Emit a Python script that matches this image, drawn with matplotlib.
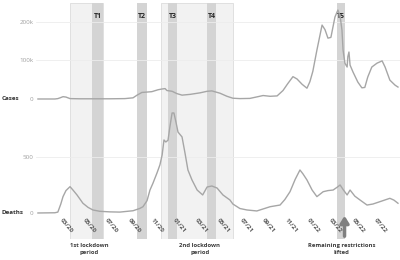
import numpy as np
import matplotlib
matplotlib.use("Agg")
import matplotlib.pyplot as plt

plt.rcParams["font.family"] = ["Open Sans", "DejaVu Sans"]

# day offsets from 2020-01-01
case_days = [-8, 38, 46, 52, 60, 68, 79, 106, 187, 228, 250, 261, 274, 288, 301, 318,
             329, 337, 342, 356, 369, 383, 405, 432, 451, 464, 486, 505, 521, 540,
             567, 589, 603, 622, 641, 657, 670, 684, 695, 709, 722, 730, 738, 749,
             763, 771, 779, 787, 798, 806, 812, 817, 820, 825, 831, 833, 836, 839,
             847, 860, 871, 879, 887, 898, 912, 926, 934, 947, 961, 969]
cases = [0, 0, 1000, 3000, 6000, 5000, 1000, 500, 500, 1000, 3000, 10000, 17000,
         18000, 19000, 24000, 26000, 27000, 22000, 20000, 14000, 10000, 12000, 16000,
         20000, 21000, 15000, 7000, 2000, 1000, 1500, 6000, 9000, 7000, 8000, 22000,
         40000, 58000, 52000, 38000, 28000, 45000, 72000, 127000, 192000, 180000,
         158000, 160000, 213000, 231000, 215000, 179000, 127000, 93000, 83000, 110000,
         122000, 88000, 70000, 44000, 29000, 30000, 57000, 83000, 93000, 99000, 83000,
         49000, 36000, 31000]

death_days = [-8, 38, 46, 54, 60, 68, 79, 87, 98, 114, 128, 141, 160, 187, 214, 250,
              268, 277, 288, 296, 304, 315, 323, 329, 334, 339, 345, 350, 356, 361,
              367, 372, 383, 391, 399, 410, 424, 439, 451, 464, 478, 494, 513, 521,
              540, 559, 586, 622, 649, 662, 676, 690, 703, 711, 722, 736, 749, 766,
              779, 793, 804, 812, 820, 831, 839, 852, 866, 885, 901, 920, 937, 947,
              958, 969]
deaths = [0, 2, 8, 80, 146, 200, 235, 205, 161, 87, 50, 27, 15, 10, 8, 20, 40, 56,
          110, 205, 265, 357, 430, 518, 652, 634, 650, 768, 893, 893, 804, 723, 679,
          536, 384, 295, 205, 161, 232, 241, 223, 161, 116, 80, 40, 27, 18, 56, 71,
          120, 190, 300, 384, 350, 295, 205, 146, 190, 200, 205, 230, 250, 210, 161,
          205, 150, 116, 71, 80, 101, 120, 131, 115, 87]

lockdowns = [(79, 169, "1st lockdown\nperiod"), (326, 521, "2nd lockdown\nperiod")]
t_bands = [(139, 169, "T1"), (261, 288, "T2"), (345, 369, "T3"),
           (451, 475, "T4"), (803, 825, "T5")]
lifted_day = 824
tick_months = ["2020-03", "2020-05", "2020-07", "2020-09", "2020-11", "2021-01",
               "2021-03", "2021-05", "2021-07", "2021-09", "2021-11", "2022-01",
               "2022-03", "2022-05", "2022-07"]

base = np.datetime64("2020-01-01T00")


def d(x):
    hours = np.round(np.asarray(x, dtype=float) * 24).astype(int)
    return base + hours.astype("timedelta64[h]")


W, H = 400, 260
fig = plt.figure(figsize=(4, 2.6), dpi=100)


def rect(l, t, r, b):
    return [l / W, 1 - b / H, (r - l) / W, (b - t) / H]


xlim = (d(-13.3), d(974.5))
line_c = "#a6a6a6"

# shaded periods behind everything
bg = fig.add_axes(rect(36, 3, 400, 239))
bg.set_xlim(*xlim)
bg.set_ylim(0, 1)
bg.axis("off")
for s, e, _ in lockdowns:
    bg.axvspan(d(s), d(e), facecolor="#f2f2f2", edgecolor="#dcdcdc", lw=0.6)
for s, e, lab in t_bands:
    bg.axvspan(d(s), d(e), facecolor="#d4d4d4", edgecolor="none")
    bg.text(d((s + e) / 2), (239 - 17) / 236, lab, ha="center", va="center",
            fontsize=5, fontweight="bold", color="#262626")
bg.annotate("", xy=(d(lifted_day), (239 - 213) / 236), xytext=(d(lifted_day), 0),
            arrowprops=dict(arrowstyle="-|>,head_width=0.25,head_length=0.4",
                            lw=2.5, color="#7f7f7f"))
for s, e, lab in lockdowns:
    bg.text(d((s + e) / 2 + 8), -0.015, lab, ha="center", va="top", fontsize=4.2,
            fontweight="bold", color="#3a3a3a", linespacing=1.5, clip_on=False)
bg.text(d(815), -0.015, "Remaining restrictions\nlifted", ha="center", va="top",
        fontsize=4.2, fontweight="bold", color="#3a3a3a", linespacing=1.5,
        clip_on=False)

# cases panel
ax_c = fig.add_axes(rect(36, 3, 400, 110))
ax_c.patch.set_alpha(0)
ax_c.plot(d(case_days), cases, color=line_c, lw=1.0)
ax_c.set_xlim(*xlim)
ax_c.set_ylim(-28600, 249300)
ax_c.set_yticks([0, 100000, 200000], ["0", "100k", "200k"])
for v in (100000, 200000):
    ax_c.axhline(v, color="#ededed", lw=0.6, zorder=0)
ax_c.set_xticks([])

# deaths panel
ax_d = fig.add_axes(rect(36, 100, 400, 215))
ax_d.patch.set_alpha(0)
ax_d.plot(d(death_days), deaths, color=line_c, lw=1.0)
ax_d.set_xlim(*xlim)
ax_d.set_ylim(-18, 1009)
ax_d.set_yticks([0, 500], ["0", "500"])
ax_d.axhline(500, color="#ededed", lw=0.6, zorder=0)
ticks = [np.datetime64(m + "-01T00") for m in tick_months]
ax_d.set_xticks(ticks)
ax_d.set_xticklabels([m[5:] + "/" + m[2:4] for m in tick_months], rotation=-50,
                     ha="left", va="top", rotation_mode="anchor", fontsize=4.5,
                     color="#595959", fontweight="bold")

for ax in (ax_c, ax_d):
    for sp in ax.spines.values():
        sp.set_visible(False)
    ax.tick_params(length=0, pad=2)
    ax.tick_params(axis="y", labelsize=4.5, labelcolor="#a0a0a0")

fig.text(2 / W, 1 - 98 / H, "Cases", ha="left", va="center", fontsize=4.5,
         fontweight="bold", color="#333333")
fig.text(2 / W, 1 - 212 / H, "Deaths", ha="left", va="center", fontsize=4.5,
         fontweight="bold", color="#333333")

fig.savefig("out.png", dpi=100, facecolor="white")
